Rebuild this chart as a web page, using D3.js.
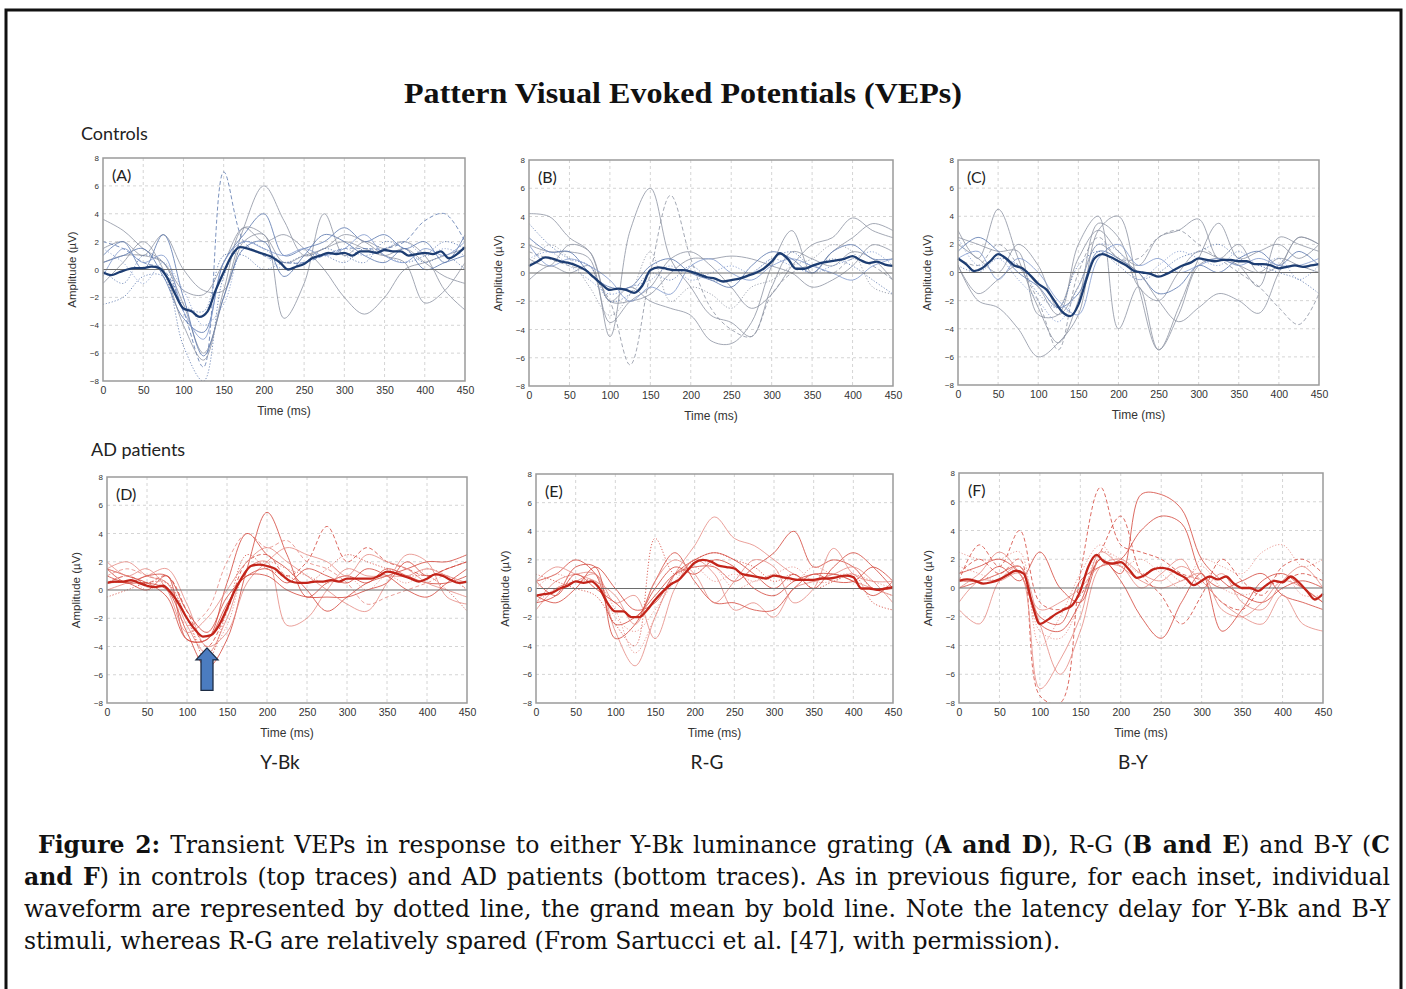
<!DOCTYPE html>
<html>
<head>
<meta charset="utf-8">
<script src="https://cdn.jsdelivr.net/npm/d3@7"></script>
<style>
  body { margin: 0; background: #fff; }
  #wrap { position: relative; width: 1406px; height: 989px; overflow: hidden; }
  #wrap svg { position: absolute; left: 0; top: 0; }
  #caption { position: absolute; left: 24px; top: 829px; width: 1366px;
    font-family: "DejaVu Serif", Georgia, serif; font-size: 20px;
    line-height: 32px; color: #111; }
  #caption div { text-align: justify; text-align-last: justify; white-space: nowrap; }
  #caption div.first { padding-left: 14px; }
  #caption div.last { text-align-last: left; }
</style>
</head>
<body>
<div id="wrap">
  <svg id="chart" width="1406" height="989"></svg>
  <div id="caption">
    <div class="first"><b>Figure 2:</b> Transient VEPs in response to either Y-Bk luminance grating (<b>A and D</b>), R-G (<b>B and E</b>) and B-Y (<b>C</b></div>
    <div><b>and F</b>) in controls (top traces) and AD patients (bottom traces). As in previous figure, for each inset, individual</div>
    <div>waveform are represented by dotted line, the grand mean by bold line. Note the latency delay for Y-Bk and B-Y</div>
    <div class="last"><span id="lastLine">stimuli, whereas R-G are relatively spared (From Sartucci et al. [47], with permission).</span></div>
  </div>
</div>
<script>
// time axis of the two kinds of series
const tMean = d3.range(0, 451, 10);   // grand means sampled every 10 ms
const tTrace = d3.range(0, 451, 25);  // single subjects sampled every 25 ms
const xTicks = [0, 50, 100, 150, 200, 250, 300, 350, 400, 450];
const yTicks = [-8, -6, -4, -2, 0, 2, 4, 6, 8];

// ---- grand means (uV) ----
const meanA = [-0.2,-0.4,-0.2,0,0.1,0.1,0.2,0.1,-0.6,-1.8,-2.8,-3.0,-3.4,-3.0,-1.5,-0.2,1.0,1.6,1.5,1.3,1.1,0.9,0.5,0.0,0.2,0.4,0.8,1.0,1.2,1.1,1.2,1.0,1.3,1.3,1.2,1.4,1.3,1.3,1.0,1.1,1.2,1.1,1.3,0.8,1.1,1.6];
const meanB = [0.5,0.8,1.1,1.0,0.8,0.7,0.5,0.2,-0.3,-0.8,-1.2,-1.1,-1.2,-1.4,-0.9,0.2,0.4,0.3,0.2,0.2,0.1,-0.1,-0.3,-0.4,-0.6,-0.5,-0.4,-0.2,0.0,0.3,0.8,1.4,1.0,0.3,0.3,0.5,0.7,0.8,0.9,1.0,1.2,0.9,0.7,0.8,0.6,0.5];
const meanC = [1.0,0.6,0.1,0.3,0.8,1.3,1.0,0.5,0.3,-0.2,-0.8,-1.2,-2.0,-2.8,-3.1,-2.3,-0.5,1.0,1.3,1.1,0.8,0.5,0.1,0.0,-0.1,-0.3,-0.1,0.2,0.5,0.7,1.0,0.9,0.8,0.9,0.9,0.8,0.8,0.6,0.6,0.5,0.3,0.4,0.5,0.4,0.5,0.6];
const meanD = [0.5,0.6,0.6,0.7,0.5,0.3,0.2,0.3,-0.2,-1.0,-2.0,-2.8,-3.3,-3.2,-2.5,-1.3,0.0,1.0,1.7,1.8,1.7,1.5,1.0,0.6,0.5,0.5,0.6,0.6,0.7,0.6,0.8,0.8,0.8,0.8,1.0,1.3,1.2,1.0,0.8,0.6,0.8,1.1,1.0,0.7,0.5,0.6];
const meanE = [-0.5,-0.4,-0.3,0.0,0.2,0.5,0.4,0.5,0.0,-1.0,-1.6,-1.6,-2.0,-2.0,-1.5,-0.8,-0.2,0.3,0.6,1.2,1.8,2.0,1.9,1.6,1.5,1.4,1.0,0.9,0.8,0.7,0.9,0.8,0.7,0.6,0.6,0.6,0.7,0.7,0.8,0.9,0.8,0.0,0.0,-0.1,0.0,0.1];
const meanF = [0.5,0.6,0.5,0.3,0.4,0.6,0.9,1.2,1.0,-1.0,-2.5,-2.2,-1.8,-1.5,-1.2,-0.2,1.5,2.3,1.8,1.7,1.8,1.3,0.7,0.9,1.3,1.4,1.3,1.0,0.7,0.2,0.5,0.8,0.6,0.8,0.3,0.0,0.0,-0.2,0.2,0.5,0.4,0.8,0.4,-0.2,-0.8,-0.4];

// ---- individual waveforms (uV), one row per subject ----
const tracesA = [
  [3.6,2.8,1.5,0.5,-2.5,-6.0,-2.0,3.0,6.0,3.5,1.0,1.5,2.0,1.5,1.0,1.5,0.5,-0.5,-1.0],
  [1.5,2.0,1.0,2.5,0.0,-1.5,-1.5,2.0,2.5,-3.5,-1.0,4.0,1.0,2.0,1.5,2.0,1.0,-1.5,-2.9],
  [0.5,1.0,1.0,0.5,-1.5,-1.8,0.5,3.0,2.0,2.5,1.5,0.0,-2.0,-3.2,-2.0,0.0,0.5,1.0,1.5],
  [2.0,1.5,0.5,0.0,-3.0,-7.0,7.0,2.0,1.0,0.5,0.5,1.0,1.5,1.5,1.5,2.0,3.5,4.0,2.0],
  [-2.5,-2.0,-0.5,-0.5,-5.5,-8.0,-0.5,2.0,1.5,0.5,1.0,1.0,0.5,1.5,1.0,0.5,1.0,2.0,1.5],
  [1.0,2.0,0.0,2.5,-2.0,-6.2,-2.0,1.5,2.0,-0.5,1.0,2.5,2.0,1.0,0.5,1.5,0.0,0.5,1.0],
  [0.5,1.0,1.5,-0.5,-3.5,-4.5,0.5,2.5,4.0,1.0,1.5,2.0,3.0,2.0,2.5,1.5,2.0,0.5,2.5],
  [-1.0,0.5,2.0,0.0,-4.0,-6.5,-1.5,3.0,2.5,0.5,1.0,1.5,2.5,2.0,1.0,0.5,-2.4,-1.5,0.5],
  [0.0,-1.0,1.0,0.5,-2.5,-3.0,1.0,1.0,0.0,0.5,0.5,1.5,1.0,0.5,2.0,1.5,0.5,1.0,0.0],
  [1.5,0.5,-1.0,0.5,-1.5,-4.0,-2.5,1.5,1.0,0.0,0.5,1.0,1.5,1.0,1.5,2.0,1.0,1.5,1.0],
  [-0.5,1.5,0.5,1.0,-3.0,-5.0,0.5,2.0,1.5,1.0,1.5,1.0,1.5,2.5,1.0,0.5,1.5,1.0,2.0]
];
const tracesB = [
  [4.2,4.0,2.5,1.5,-2.0,-2.0,-1.5,0.0,1.0,1.0,1.2,1.0,0.5,0.0,-1.0,-0.5,0.5,2.0,1.5],
  [2.0,1.5,1.5,1.0,-4.5,3.0,6.0,1.0,-1.0,-3.0,-3.5,-4.5,-1.0,1.5,1.0,0.5,1.5,1.0,-0.5],
  [1.5,1.0,0.5,0.0,-2.0,-6.5,0.0,5.5,1.0,-2.5,-4.0,-4.5,-1.5,0.0,0.5,0.0,1.0,0.5,-0.5],
  [1.0,0.5,2.0,1.5,-2.0,-1.0,-2.0,-2.5,-3.0,-4.8,-5.0,-3.5,0.5,3.0,0.0,1.5,2.5,3.5,3.0],
  [-0.5,0.5,0.0,0.5,-3.5,-2.0,-1.0,1.0,1.5,0.5,-1.0,-2.5,-1.5,0.5,2.0,2.5,3.9,3.0,2.5],
  [3.5,2.0,1.0,0.5,-2.0,-1.5,0.0,-0.5,0.5,-0.5,-0.5,0.0,1.0,1.5,0.5,1.0,0.5,-0.5,-1.5],
  [2.5,1.5,1.5,0.0,-1.0,-1.0,0.5,1.0,0.0,-0.5,-1.0,0.5,1.5,1.0,0.0,1.5,2.0,1.0,1.0],
  [0.5,2.0,1.0,-1.0,-3.0,-1.5,1.5,-2.0,-1.0,-1.5,-2.5,-1.0,-0.5,0.5,1.0,2.0,1.5,-1.0,-1.5],
  [1.0,1.5,0.5,-0.5,-1.5,-1.0,-0.5,0.5,-0.5,0.0,0.5,0.0,1.0,0.5,0.0,0.5,1.0,1.5,0.5],
  [2.0,0.5,1.0,0.5,-0.5,-2.0,-1.0,-1.5,0.5,1.0,0.0,-0.5,0.5,1.0,0.5,0.0,-0.5,0.5,1.0]
];
const tracesC = [
  [0.5,-2.0,-2.5,-4.0,-6.0,-5.0,-3.0,3.0,4.0,-1.0,-5.5,-2.5,1.0,3.5,1.0,1.5,2.0,1.0,2.0],
  [3.0,1.0,4.5,1.0,-2.5,-5.0,-2.0,3.5,2.5,-1.0,-2.0,0.0,1.5,1.0,0.5,0.0,1.0,0.5,0.0],
  [2.5,2.0,1.5,1.5,-3.0,-3.0,2.0,4.0,-4.0,-1.0,-5.5,-3.0,0.5,1.0,0.5,-1.0,2.5,2.0,1.5],
  [1.0,0.5,2.0,0.5,-2.0,-5.5,0.0,2.5,1.0,1.0,2.5,3.0,2.0,1.0,0.0,-1.0,-2.5,-3.7,-1.5],
  [2.0,1.0,0.0,2.0,0.5,-2.5,1.0,3.0,1.5,0.5,2.5,3.0,3.8,1.0,2.0,0.0,0.5,2.5,2.0],
  [1.5,2.5,1.5,0.0,-1.0,-2.5,-1.5,1.5,1.0,0.0,-1.5,-1.0,0.5,0.0,1.0,1.5,0.5,1.5,0.5],
  [0.5,0.0,1.0,0.5,-1.5,-2.5,0.5,1.5,0.5,-0.5,0.0,1.0,1.5,2.0,1.0,0.5,0.0,-0.5,-1.5],
  [0.5,-1.5,-0.5,0.5,-1.0,-3.0,-1.0,2.0,1.0,0.0,-2.0,-3.5,-2.5,-1.5,-2.0,-2.9,0.0,2.5,2.0],
  [2.5,0.5,1.0,-0.5,-2.0,-3.5,-1.0,2.0,1.5,-0.5,0.5,1.5,1.0,0.5,1.5,0.5,1.0,-0.5,0.5],
  [1.0,1.5,-0.5,1.0,0.0,-2.0,-3.0,1.0,2.0,0.5,1.0,0.0,0.5,1.0,0.5,1.0,0.5,0.5,1.0]
];
const tracesD = [
  [1.0,0.5,0.5,0.0,-3.0,-5.5,-3.5,1.5,5.5,2.5,-0.5,0.5,1.0,0.5,1.5,1.0,0.5,0.5,1.0],
  [1.5,2.0,1.0,0.5,-2.5,-4.5,-2.0,1.5,2.0,-2.5,-2.0,0.0,1.5,1.0,1.0,1.0,1.5,1.0,0.5],
  [0.5,1.0,0.5,1.0,-1.5,-4.0,-1.5,2.0,2.5,1.0,2.0,4.5,2.0,3.0,2.0,1.5,1.0,1.5,2.0],
  [1.5,1.0,0.5,-0.5,-3.5,-3.5,0.5,4.0,2.5,1.5,0.0,-1.5,-0.5,0.5,1.0,1.5,2.0,2.0,2.5],
  [0.0,0.5,1.0,1.5,-1.0,-4.0,-3.0,0.5,2.0,3.0,2.5,2.0,1.0,2.5,2.0,1.5,0.5,0.0,-0.5],
  [-0.5,0.0,0.5,0.5,-2.0,-5.0,-1.5,2.5,1.5,1.0,0.5,1.5,2.5,2.0,1.5,1.0,1.0,0.0,-1.5],
  [0.5,0.5,0.0,1.0,-3.5,-3.5,-1.0,1.0,1.0,0.0,-0.5,-0.5,-0.5,0.0,0.5,2.0,1.0,1.5,2.0],
  [1.0,1.5,1.0,0.5,-2.5,-1.5,2.0,4.0,3.0,3.5,2.0,1.5,0.5,-1.0,-0.5,0.0,0.5,1.0,0.0],
  [2.0,1.0,1.5,0.0,-3.0,-2.0,0.0,2.0,3.0,2.0,1.0,0.0,-1.0,-1.5,0.5,2.5,2.0,-0.5,-1.0],
  [0.5,1.0,0.0,0.5,-2.0,-4.5,-2.5,1.5,2.0,1.5,1.0,0.5,1.0,0.0,1.0,0.5,1.5,1.0,0.0],
  [1.5,0.5,1.0,1.0,-1.5,-3.0,-0.5,1.0,1.5,0.5,1.5,1.0,0.5,1.5,1.0,0.0,-0.5,0.5,1.5]
];
const tracesE = [
  [-1.0,0.5,1.0,1.0,-3.0,-5.4,-2.0,1.0,3.0,5.0,3.5,3.0,2.0,1.0,0.5,1.0,0.5,0.0,-0.5],
  [0.5,1.0,2.0,1.0,-2.5,-2.0,-0.5,1.0,1.5,1.5,0.5,1.5,2.5,4.0,1.5,2.0,1.5,0.0,0.0],
  [-1.5,0.0,0.5,1.0,-1.0,-0.5,-3.5,0.0,2.0,1.0,-1.5,-1.0,-2.0,0.0,0.5,1.0,1.5,0.5,-1.0],
  [1.0,0.5,0.0,-0.5,-2.5,-4.0,3.5,1.0,2.0,2.5,2.0,1.5,0.5,1.0,0.0,0.5,1.0,-1.0,-1.5],
  [-1.0,-0.5,1.5,1.5,-3.5,-2.5,0.5,2.5,0.5,-1.0,-1.0,-1.5,-1.5,0.0,1.0,0.5,0.5,1.5,0.5],
  [0.0,1.0,0.5,0.5,-1.5,-4.5,-2.0,1.0,1.5,0.5,1.0,0.5,1.0,0.5,1.5,1.0,1.0,0.5,0.0],
  [-0.5,-1.0,0.0,1.5,0.0,-1.5,-1.0,1.0,2.0,2.5,2.0,1.0,0.0,1.0,0.0,1.5,2.5,1.5,0.0],
  [0.5,1.5,1.0,0.5,-0.5,-2.5,0.5,2.0,1.0,-1.0,0.5,2.0,1.5,-1.0,0.0,2.8,1.0,0.5,0.5],
  [-1.0,0.0,0.5,0.5,-2.0,-3.0,-1.5,0.5,2.0,1.5,0.0,0.5,1.0,1.5,0.5,0.5,1.0,0.0,-0.5],
  [0.5,-0.5,1.0,0.0,-1.0,-2.0,0.0,1.5,1.0,2.0,1.5,0.0,-0.5,0.5,1.0,1.0,0.5,-0.5,0.5]
];
const tracesF = [
  [0.5,0.5,1.0,1.5,-2.5,-3.0,-1.0,2.0,1.0,6.5,6.5,5.5,2.0,0.5,-0.5,-1.0,0.0,0.5,0.0],
  [1.0,1.5,2.0,1.0,-2.0,-2.5,0.5,1.5,2.0,4.0,5.0,4.5,1.0,0.0,0.5,1.0,-0.5,-1.0,-1.5],
  [1.0,2.0,1.0,2.0,-7.5,-8.0,1.0,7.0,3.0,2.5,2.0,1.0,0.5,-1.0,-1.5,0.0,0.5,1.0,0.5],
  [-1.0,0.5,0.5,1.0,-7.0,-5.0,-2.0,2.5,1.5,0.5,0.0,0.5,1.0,-1.5,-2.0,-1.0,0.5,0.0,-1.0],
  [0.0,0.5,1.5,0.5,2.5,0.0,-1.0,2.0,0.5,-2.0,-3.5,-1.0,1.0,-3.0,-1.5,0.5,1.0,0.0,-1.0],
  [-1.5,-2.5,0.5,1.5,-2.5,-6.0,-3.0,1.5,2.0,1.0,0.5,1.5,0.5,-1.0,-2.0,-2.5,-0.5,-2.5,-3.0],
  [2.5,2.0,2.0,2.5,-4.0,-2.0,1.0,3.0,1.5,2.0,1.0,0.0,2.0,1.5,1.0,2.5,3.0,1.5,2.0],
  [0.5,3.0,1.5,4.0,-1.0,-1.5,-0.5,2.5,5.0,1.0,-0.5,-2.5,-0.5,2.0,0.5,-0.5,1.5,2.0,1.0],
  [1.5,1.0,0.5,1.5,-3.0,-3.5,-1.0,2.5,2.0,1.0,1.5,0.5,1.5,0.0,-0.5,0.0,1.0,-0.5,-0.5],
  [0.0,1.0,2.5,1.0,-1.5,-1.0,0.0,1.5,1.5,0.0,1.0,2.0,0.0,1.0,-1.0,-1.5,0.5,1.5,0.0]
];

// line look of each subject: colour tone (g grey, b blue, l light blue, r red, p pale red) + stroke (s solid, d dashed, o dotted)
const looksA = ["gs","gs","gs","bd","bo","bs","bs","gs","bo","lo","ls"];
const looksB = ["gs","gs","gd","gs","gs","bo","bs","go","lo","ls"];
const looksC = ["gs","gs","gs","gd","gs","bs","bo","gs","lo","ls"];
const looksD = ["rs","ps","rd","rs","ps","ro","rs","pd","ps","po","rs"];
const looksE = ["ps","rs","ps","ro","rs","po","rs","ps","po","rs"];
const looksF = ["rs","rs","rd","ps","rs","ps","po","rd","po","ps"];

const panels = [
  { id: "A", x0: 103, x1: 465, y0: 158, y1: 381, mean: meanA, traces: tracesA, looks: looksA, meanColor: "#1d3d72" },
  { id: "B", x0: 529, x1: 893, y0: 160, y1: 386, mean: meanB, traces: tracesB, looks: looksB, meanColor: "#1d3d72" },
  { id: "C", x0: 958, x1: 1319, y0: 160, y1: 385, mean: meanC, traces: tracesC, looks: looksC, meanColor: "#1d3d72" },
  { id: "D", x0: 107, x1: 467, y0: 477, y1: 703, mean: meanD, traces: tracesD, looks: looksD, meanColor: "#c3241a" },
  { id: "E", x0: 536, x1: 893, y0: 474, y1: 703, mean: meanE, traces: tracesE, looks: looksE, meanColor: "#c3241a" },
  { id: "F", x0: 959, x1: 1323, y0: 473, y1: 703, mean: meanF, traces: tracesF, looks: looksF, meanColor: "#c3241a" }
];

const tone = { g: "#8d93a2", b: "#5a77ad", l: "#7f98cc", r: "#d4463b", p: "#e58a82" };
const dash = { s: null, d: "4,2.5", o: "1.2,1.8" };

const svg = d3.select("#chart");

// outer frame
svg.append("rect")
  .attr("x", 6).attr("y", 10).attr("width", 1395).attr("height", 1000)
  .attr("fill", "none").attr("stroke", "#111").attr("stroke-width", 3);

svg.append("text")
  .attr("x", 683).attr("y", 103)
  .attr("text-anchor", "middle")
  .attr("textLength", 558).attr("lengthAdjust", "spacingAndGlyphs")
  .style("font-family", "'Liberation Serif', serif")
  .style("font-weight", "bold")
  .style("font-size", "29px")
  .attr("fill", "#111")
  .text("Pattern Visual Evoked Potentials (VEPs)");

const sans = "Lato, 'Open Sans', sans-serif";
const arial = "'Liberation Sans', Arial, sans-serif";

svg.append("text").attr("x", 81).attr("y", 140)
  .style("font-family", sans).style("font-size", "18px").attr("fill", "#222").text("Controls");
svg.append("text").attr("x", 91).attr("y", 456)
  .style("font-family", sans).style("font-size", "18px").attr("fill", "#222").text("AD patients");

const stimuli = [["Y-Bk", 280], ["R-G", 707], ["B-Y", 1133]];
svg.selectAll("text.stim").data(stimuli).join("text")
  .attr("class", "stim")
  .attr("x", d => d[1]).attr("y", 769)
  .attr("text-anchor", "middle")
  .style("font-family", sans).style("font-size", "19px").attr("fill", "#222")
  .text(d => d[0]);

function drawPanel(p) {
  const g = svg.append("g");
  const x = d3.scaleLinear().domain([0, 450]).range([p.x0, p.x1]);
  const y = d3.scaleLinear().domain([-8, 8]).range([p.y1, p.y0]);

  // dashed grid
  g.append("g").selectAll("line").data(xTicks.slice(1, -1)).join("line")
    .attr("x1", d => x(d)).attr("x2", d => x(d)).attr("y1", p.y0).attr("y2", p.y1)
    .attr("stroke", "#c9c9c9").attr("stroke-width", 0.8).attr("stroke-dasharray", "3,3");
  g.append("g").selectAll("line").data(yTicks.slice(1, -1).filter(d => d !== 0)).join("line")
    .attr("x1", p.x0).attr("x2", p.x1).attr("y1", d => y(d)).attr("y2", d => y(d))
    .attr("stroke", "#c9c9c9").attr("stroke-width", 0.8).attr("stroke-dasharray", "3,3");

  const clipId = "clip" + p.id;
  svg.append("clipPath").attr("id", clipId).append("rect")
    .attr("x", p.x0).attr("y", p.y0).attr("width", p.x1 - p.x0).attr("height", p.y1 - p.y0);

  const traceLine = d3.line()
    .x((d, i) => x(tTrace[i]))
    .y(d => y(d))
    .curve(d3.curveCatmullRom.alpha(0.5));

  g.append("g").attr("clip-path", `url(#${clipId})`)
    .selectAll("path").data(p.traces).join("path")
    .attr("d", traceLine)
    .attr("fill", "none")
    .attr("stroke", (d, i) => tone[p.looks[i][0]])
    .attr("stroke-width", 0.9)
    .attr("stroke-opacity", 0.9)
    .attr("stroke-dasharray", (d, i) => dash[p.looks[i][1]]);

  // zero line
  g.append("line")
    .attr("x1", p.x0).attr("x2", p.x1).attr("y1", y(0)).attr("y2", y(0))
    .attr("stroke", "#6d6d6d").attr("stroke-width", 1.1);

  const meanLine = d3.line()
    .x((d, i) => x(tMean[i]))
    .y(d => y(d))
    .curve(d3.curveMonotoneX);

  g.append("path").datum(p.mean)
    .attr("d", meanLine)
    .attr("fill", "none")
    .attr("stroke", p.meanColor)
    .attr("stroke-width", 2.3)
    .attr("stroke-linejoin", "round");

  // plot frame
  g.append("rect")
    .attr("x", p.x0).attr("y", p.y0).attr("width", p.x1 - p.x0).attr("height", p.y1 - p.y0)
    .attr("fill", "none").attr("stroke", "#9a9a9a").attr("stroke-width", 1.5);

  // axes
  const xa = g.append("g").attr("transform", `translate(0,${p.y1})`)
    .call(d3.axisBottom(x).tickValues(xTicks).tickSize(0).tickPadding(6));
  xa.select(".domain").remove();
  xa.selectAll("text").style("font-family", arial).style("font-size", "10.5px").attr("fill", "#333");

  const ya = g.append("g").attr("transform", `translate(${p.x0},0)`)
    .call(d3.axisLeft(y).tickValues(yTicks).tickSize(0).tickPadding(4));
  ya.select(".domain").remove();
  ya.selectAll("text").style("font-family", arial).style("font-size", "8px").attr("fill", "#333");

  g.append("text")
    .attr("x", (p.x0 + p.x1) / 2).attr("y", p.y1 + 34)
    .attr("text-anchor", "middle")
    .style("font-family", arial).style("font-size", "12px").attr("fill", "#333")
    .text("Time (ms)");

  g.append("text")
    .attr("transform", `translate(${p.x0 - 27},${(p.y0 + p.y1) / 2}) rotate(-90)`)
    .attr("text-anchor", "middle")
    .style("font-family", arial).style("font-size", "11.5px").attr("fill", "#333")
    .text("Amplitude (µV)");

  g.append("text")
    .attr("x", p.x0 + 9).attr("y", p.y0 + 23)
    .style("font-family", sans).style("font-size", "16px").attr("fill", "#222")
    .text(`(${p.id})`);

  return { x, y, g };
}

const drawn = panels.map(drawPanel);

// blue arrow under the N1 peak of the AD Y-Bk response
const arrowTip = [125, -4.1];
const arrowBase = -7.1;
const pd = drawn[3];
const ax = pd.x(arrowTip[0]);
const ay = pd.y(arrowTip[1]);
const ab = pd.y(arrowBase);
const head = 12;
pd.g.append("path")
  .attr("d", `M${ax},${ay} L${ax + 11},${ay + head} L${ax + 6},${ay + head} L${ax + 6},${ab} ` +
             `L${ax - 6},${ab} L${ax - 6},${ay + head} L${ax - 11},${ay + head} Z`)
  .attr("fill", "#4b7cc0").attr("stroke", "#1c2c44").attr("stroke-width", 1.3)
  .attr("stroke-linejoin", "miter");

// caption: size the serif so that the last (unjustified) line spans as in the figure
const cap = d3.select("#caption");
const lastW = document.getElementById("lastLine").getBoundingClientRect().width;
const capSize = Math.min(24, 20 * 1036 / lastW);
cap.style("font-size", capSize.toFixed(2) + "px");
</script>
</body>
</html>
